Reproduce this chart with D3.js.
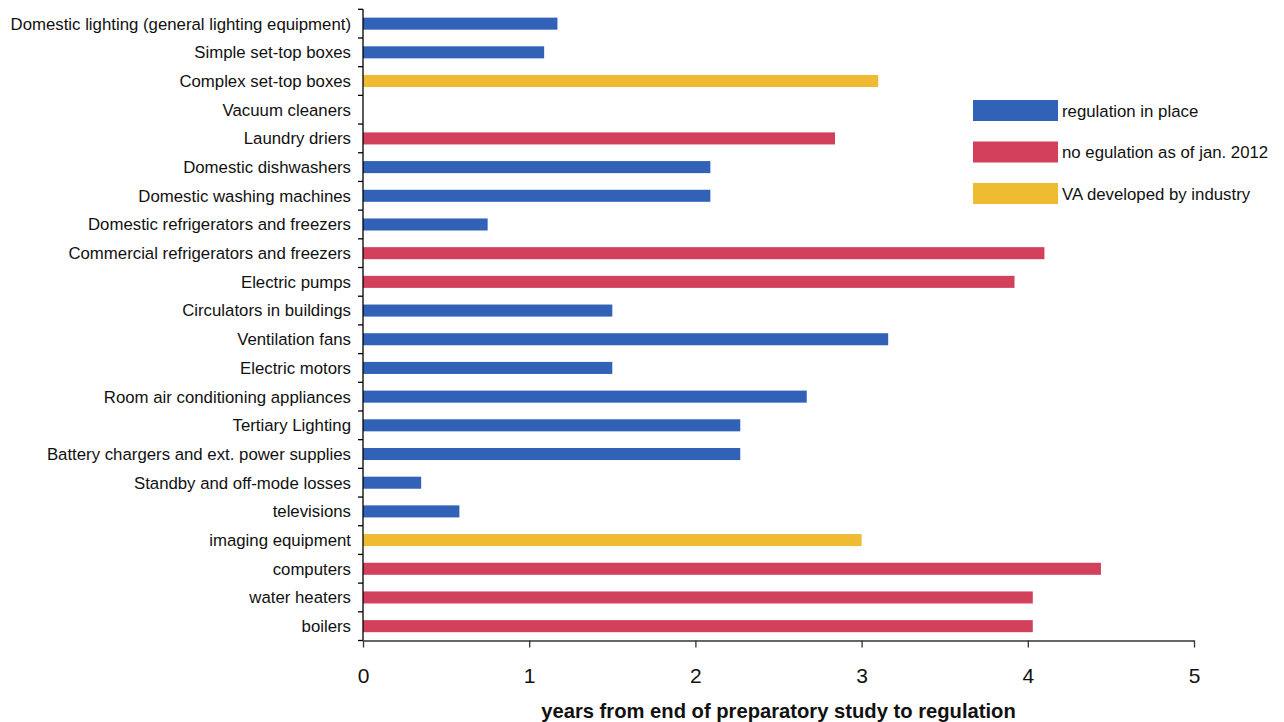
<!DOCTYPE html>
<html><head><meta charset="utf-8">
<script src="https://cdn.jsdelivr.net/npm/d3@7"></script>
<style>body{margin:0;background:#fff}svg{display:block}</style>
</head><body>
<svg id="c" width="1284" height="722"></svg>
<script>
const categories = ["Domestic lighting (general lighting equipment)","Simple set-top boxes","Complex set-top boxes","Vacuum cleaners","Laundry driers","Domestic dishwashers","Domestic washing machines","Domestic refrigerators and freezers","Commercial refrigerators and freezers","Electric pumps","Circulators in buildings","Ventilation fans","Electric motors","Room air conditioning appliances","Tertiary Lighting","Battery chargers and ext. power supplies","Standby and off-mode losses","televisions","imaging equipment","computers","water heaters","boilers"];
const values = [1.17,1.09,3.10,0,2.84,2.09,2.09,0.75,4.10,3.92,1.50,3.16,1.50,2.67,2.27,2.27,0.35,0.58,3.00,4.44,4.03,4.03];
const status = ["reg","reg","va","reg","no","reg","reg","reg","no","no","reg","reg","reg","reg","reg","reg","reg","reg","va","no","no","no"];
const legendKeys = ["reg","no","va"];
const legendLabels = ["regulation in place","no egulation as of jan. 2012","VA developed by industry"];
const xTicks = [0,1,2,3,4,5];
const xTitle = "years from end of preparatory study to regulation";

const colors = {reg:"#3162B8", no:"#D2405C", va:"#EEBB33"};
const font = "Liberation Sans, Arial, sans-serif";
const svg = d3.select("#c");
const m = {left:363, right:1194, top:9.3, bottom:640.5};
const x = d3.scaleLinear().domain([0,5]).range([m.left,m.right]);
const y = d3.scaleBand().domain(categories).range([m.top,m.bottom]).paddingInner(0.58).paddingOuter(0.29);
const yb = d3.scaleBand().domain(categories).range([m.top,m.bottom]);

svg.append("g").selectAll("rect").data(categories).join("rect")
  .attr("x", x(0)).attr("y", d=>y(d)).attr("height", y.bandwidth())
  .attr("width", (d,i)=>x(values[i])-x(0)).attr("fill",(d,i)=>colors[status[i]]);

// y axis
const ga = svg.append("g");
ga.append("line").attr("x1",m.left).attr("x2",m.left).attr("y1",m.top).attr("y2",m.bottom).attr("stroke","#000").attr("stroke-width",1.3);
const bounds = categories.map(d=>yb(d)).concat([m.bottom]);
ga.selectAll("line.t").data(bounds).join("line").attr("class","t")
  .attr("x1",m.left-5).attr("x2",m.left).attr("y1",d=>d).attr("y2",d=>d).attr("stroke","#000").attr("stroke-width",1.3);
ga.selectAll("text").data(categories).join("text")
  .attr("x",351).attr("y",d=>yb(d)+yb.bandwidth()/2).attr("dy","0.35em")
  .attr("text-anchor","end").attr("font-family",font).attr("font-size",16.8).attr("fill","#111").text(d=>d);

// x axis
const gx = svg.append("g").attr("transform",`translate(0,${m.bottom})`)
  .call(d3.axisBottom(x).tickValues(xTicks).tickSize(7).tickSizeOuter(0).tickFormat(d3.format("d")));
gx.select(".domain").attr("stroke","#333").attr("stroke-width",1.3);
gx.selectAll(".tick line").attr("stroke","#333").attr("stroke-width",1.3);
gx.selectAll(".tick text").attr("y",27.5).attr("font-family",font).attr("font-size",21).attr("fill","#111");

svg.append("text").attr("x",778.5).attr("y",718).attr("text-anchor","middle")
  .attr("font-family",font).attr("font-weight","bold").attr("font-size",20.2).attr("fill","#111").text(xTitle);

// legend
const lg = svg.append("g").selectAll("g").data(legendKeys).join("g")
  .attr("transform",(d,i)=>`translate(973,${100+i*41.5})`);
lg.append("rect").attr("width",85).attr("height",21).attr("fill",d=>colors[d]);
lg.append("text").attr("x",89).attr("y",11).attr("dy","0.35em").attr("font-family",font).attr("font-size",16.8).attr("fill","#111").text((d,i)=>legendLabels[i]);
</script>
</body></html>
